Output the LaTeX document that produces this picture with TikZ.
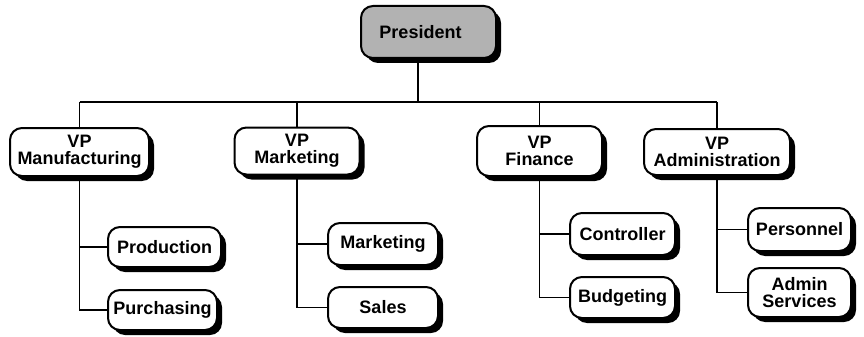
\documentclass[tikz,border=0pt]{standalone}
\usepackage{fontspec}
\setmainfont{Liberation Sans}
\usetikzlibrary{shadows}
\tikzset{
  orgbox/.style={draw, line width=2pt, fill=white, rounded corners=12pt,
    align=center, inner sep=0pt, font=\bfseries\fontsize{18}{17}\selectfont,
    drop shadow={shadow xshift=5pt, shadow yshift=-5pt, fill=black, opacity=1}},
  topbox/.style={orgbox, fill=black!30},
  conn/.style={line width=1.8pt}
}
\begin{document}
\begin{tikzpicture}[x=1pt,y=-1pt]
\useasboundingbox (0,0) rectangle (864,337);
% top
\node[topbox, minimum width=135pt, minimum height=52pt] (pres) at (428.5,32) {President\hspace*{16pt}};
% VPs
\node[orgbox, minimum width=139pt, minimum height=48pt] (vpm) at (79.5,152) {VP\\Manufacturing};
\node[orgbox, minimum width=125pt, minimum height=47pt] (vpk) at (297,151) {VP\\Marketing};
\node[orgbox, minimum width=125pt, minimum height=50pt] (vpf) at (539.5,151) {VP\\Finance};
\node[orgbox, minimum width=146pt, minimum height=46pt] (vpa) at (717,152) {VP\\Administration};
% children
\node[orgbox, minimum width=113pt, minimum height=40pt] (prod) at (164.5,247) {Production};
\node[orgbox, minimum width=109pt, minimum height=40pt] (purc) at (162.5,310) {Purchasing};
\node[orgbox, minimum width=110pt, minimum height=42pt] (mktg) at (383,244) {Marketing};
\node[orgbox, minimum width=110pt, minimum height=41pt] (sales) at (383,307.5) {Sales};
\node[orgbox, minimum width=105pt, minimum height=42pt] (ctrl) at (622.5,234) {Controller};
\node[orgbox, minimum width=105pt, minimum height=41pt] (budg) at (622.5,297.5) {Budgeting};
\node[orgbox, minimum width=103pt, minimum height=43pt] (pers) at (799.5,229.5) {Personnel};
\node[orgbox, minimum width=103pt, minimum height=49pt] (adms) at (799.5,292.5) {Admin\\Services};
% connectors
\coordinate (pv) at (418,102);
\draw[conn] (pv |- pres.south) -- (pv);
\draw[conn] (vpm.north |- pv) -- (vpa.north |- pv);
\foreach \v in {vpm,vpk,vpf,vpa} {
  \draw[conn] (\v.north |- pv) -- (\v.north);
}
\foreach \p/\a/\b in {vpm/prod/purc, vpk/mktg/sales, vpf/ctrl/budg, vpa/pers/adms} {
  \draw[conn] (\p.south) -- (\p.south |- \b.west) -- (\b.west);
  \draw[conn] (\p.south |- \a.west) -- (\a.west);
}
\end{tikzpicture}
\end{document}
